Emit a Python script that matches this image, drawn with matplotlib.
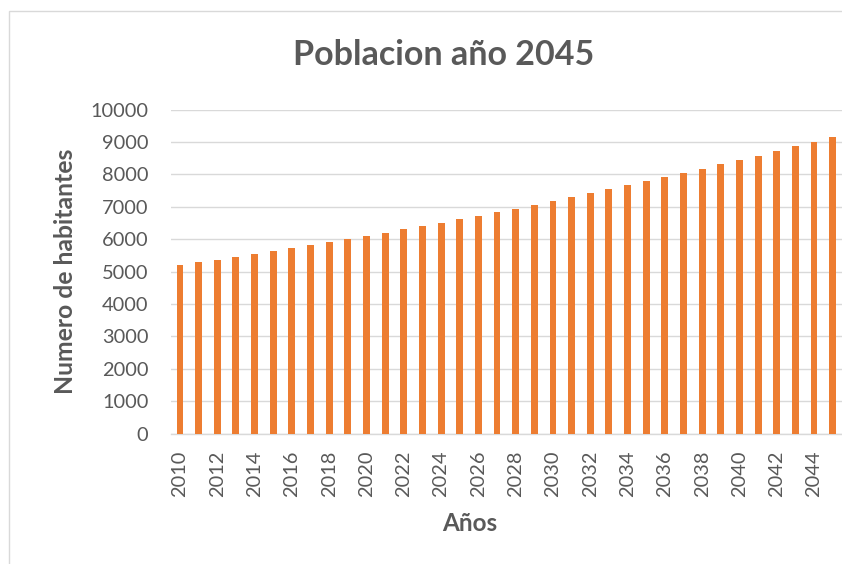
import numpy as np
import matplotlib.pyplot as plt
from matplotlib.patches import Rectangle

years = list(range(2010, 2046))
habitantes = [5194, 5287, 5358, 5451, 5552, 5645, 5728, 5821, 5914, 6006,
              6099, 6201, 6315, 6417, 6509, 6633, 6725, 6849, 6941, 7056,
              7179, 7302, 7426, 7549, 7664, 7787, 7910, 8043, 8167, 8321,
              8435, 8577, 8722, 8867, 9009, 9154]
yticks = list(range(0, 10001, 1000))

gris = "#595959"
naranja = "#ED7D31"

plt.rcParams["font.family"] = ["Lato", "DejaVu Sans"]

fig = plt.figure(figsize=(8.42, 5.64), dpi=100)
# marco del grafico
fig.patches.append(Rectangle((9 / 842, -0.01), 1.0, 1 - 11 / 564 + 0.01,
                             transform=fig.transFigure, fill=False,
                             edgecolor="#d9d9d9", linewidth=1.0))

ax = fig.add_axes([0.2027, 0.2312, 0.7973, 0.5745])
x = np.arange(len(years))
ax.bar(x, habitantes, width=0.37, color=naranja, zorder=3)

ax.set_xlim(-0.5, len(years) - 0.5)
ax.set_ylim(0, 10000)
ax.set_yticks(yticks)
ax.set_yticklabels([str(v) for v in yticks], fontsize=14.4, color=gris)
ax.set_xticks(x[::2])
ax.set_xticklabels([str(y) for y in years[::2]], rotation=90,
                   fontsize=14.4, color=gris)
ax.tick_params(length=0)
ax.tick_params(axis="y", pad=16)
ax.tick_params(axis="x", pad=12)
ax.grid(axis="y", color="#d9d9d9", linewidth=1.0, zorder=0)

for s in ["top", "right", "left"]:
    ax.spines[s].set_visible(False)
ax.spines["bottom"].set_color("#d9d9d9")
ax.spines["bottom"].set_linewidth(1.0)

fig.text(0.527, 0.902, "Poblacion año 2045", ha="center", va="center",
         fontsize=24.5, fontweight="bold", color=gris)
fig.text(0.078, 0.5186, "Numero de habitantes", ha="center", va="center",
         rotation=90, fontsize=17.8, fontweight="bold", color=gris)
fig.text(0.558, 0.071, "Años", ha="center", va="center",
         fontsize=17.5, fontweight="bold", color=gris)

fig.savefig("out.png", dpi=100)
